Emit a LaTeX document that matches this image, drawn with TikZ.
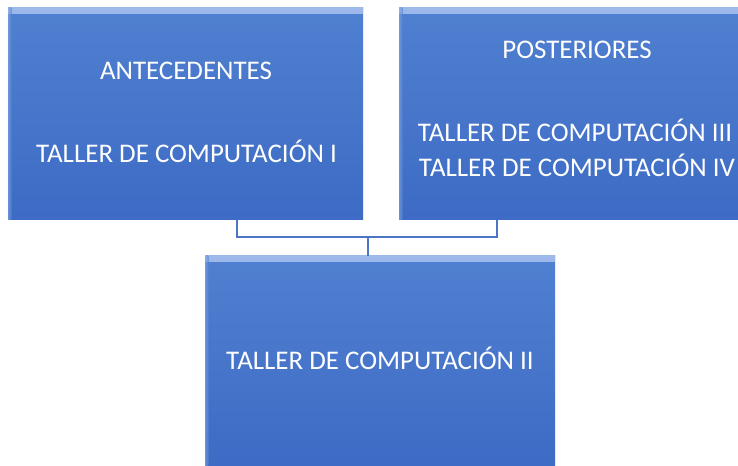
\documentclass[tikz,border=0pt]{standalone}
\usepackage{fontspec}
\setmainfont{Carlito}
\definecolor{boxtop}{HTML}{5080D0}
\definecolor{boxbot}{HTML}{3D6BC5}
\definecolor{bevel}{HTML}{9DB9EA}
\definecolor{connc}{HTML}{4A76C8}
\begin{document}
\begin{tikzpicture}[x=0.75pt,y=-0.75pt,
  bluebox/.style={rectangle, inner sep=0pt, top color=boxtop, bottom color=boxbot,
    path picture={
      \shade[top color=bevel, bottom color=boxtop]
        (path picture bounding box.north west) rectangle ([yshift=-4.5pt]path picture bounding box.north east);
      \shade[left color=bevel!70!boxtop, right color=boxtop, opacity=0.6]
        (path picture bounding box.north west) rectangle ([xshift=2.5pt]path picture bounding box.south west);
    }},
  lbl/.style={text=white, font=\fontsize{20.2}{24}\selectfont, anchor=base, inner sep=0pt},
  conn/.style={draw=connc, line width=0.9pt}]
\useasboundingbox (0,0) rectangle (738,466);
\clip (0,0) rectangle (738,466);
% boxes
\node[bluebox, minimum width=355*0.75pt, minimum height=212*0.75pt] (left) at (185.5,114) {};
\node[bluebox, minimum width=354*0.75pt, minimum height=212*0.75pt] (right) at (576,114) {};
\node[bluebox, minimum width=350*0.75pt, minimum height=211*0.75pt] (bottom) at (380,361.5) {};
% connectors
\coordinate (j) at (368,237);
\draw[conn] ([xshift=51.5*0.75pt]left.south) |- (j) -| ([xshift=-79*0.75pt]right.south);
\draw[conn] (j) -- (j |- bottom.north);
% texts
\node[lbl] (t1) at (186,80) {ANTECEDENTES};
\node[lbl] (t2) at (186.5,163) {TALLER DE COMPUTACIÓN I};
\node[lbl] (t3) at (577,59) {POSTERIORES};
\node[lbl] (t4) at (575,142) {TALLER DE COMPUTACIÓN III};
\node[lbl] (t5) at (577,177) {TALLER DE COMPUTACIÓN IV};
\node[lbl] (t6) at (380,369) {TALLER DE COMPUTACIÓN II};
\end{tikzpicture}
\end{document}
